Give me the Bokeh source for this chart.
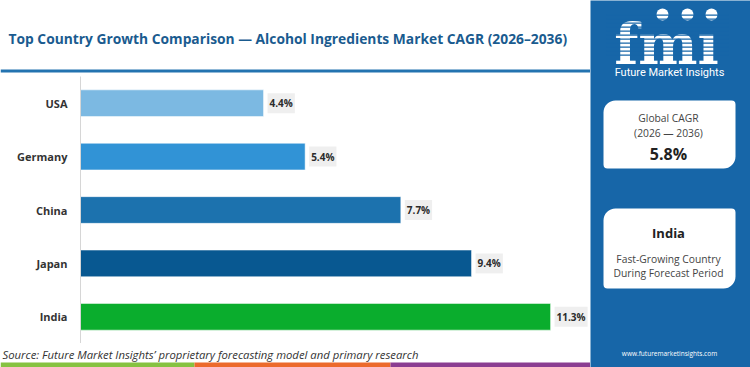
from bokeh.plotting import figure
from bokeh.layouts import row, column
from bokeh.models import FactorRange, Range1d, BoxAnnotation, ColumnDataSource
from bokeh.core.properties import value
from bokeh.embed import file_html
from bokeh.resources import INLINE

# ---- data ----
countries = ["USA", "Germany", "China", "Japan", "India"]
cagr = [4.4, 5.4, 7.7, 9.4, 11.3]
bar_colors = ["#7cb9e2", "#3193d6", "#1c72ae", "#085891", "#0aad2d"]
value_labels = ["4.4%", "5.4%", "7.7%", "9.4%", "11.3%"]
title_text = "Top Country Growth Comparison \u2014 Alcohol Ingredients Market CAGR (2026\u20132036)"
global_cagr_label = ["Global CAGR", "(2026 \u2014 2036)"]
global_cagr = "5.8%"
fastest_country = "India"
fastest_desc = ["Fast-Growing Country", "During Forecast Period"]
source_text = "Source: Future Market Insights\u2019 proprietary forecasting model and primary research"

W, H = 750, 367
LEFT_W = 590          # width of the chart column
HEAD_H, FOOT_H = 76, 24
AXIS_W = 80
PX_PER_UNIT = 41.6
BLUE = "#1766a8"
FONT = "Open Sans"


def deco_fig(w, h, x0, x1, ytop, ybot, bg="white"):
    f = figure(width=w, height=h, x_range=Range1d(x0, x1), y_range=Range1d(ybot, ytop),
               output_backend="svg", toolbar_location=None, frame_align=False,
               min_border=0, min_border_left=0, min_border_right=0,
               min_border_top=0, min_border_bottom=0)
    f.axis.visible = False
    f.grid.grid_line_color = None
    f.outline_line_color = None
    f.background_fill_color = bg
    f.border_fill_color = bg
    return f


def txt(f, x, y, s, size, color, style="normal", align="center", font=FONT, baseline="middle"):
    f.text(x=[x], y=[y], text=[s], text_font=value(font), text_font_size=size,
           text_font_style=style, text_color=color, text_align=align, text_baseline=baseline)


def box(f, l, r, t, b, color, **kw):
    f.add_layout(BoxAnnotation(left=l, right=r, top=t, bottom=b, fill_color=color,
                               fill_alpha=1, line_color=None, **kw))


# ---- header ----
head = deco_fig(LEFT_W, HEAD_H, 0, LEFT_W, 0, HEAD_H)
txt(head, 8, 38, title_text, "13.8px", "#1a5b8f", style="bold", align="left")
box(head, 0, LEFT_W, 69, 72, "#2373b0")

# ---- main chart ----
src = ColumnDataSource(dict(country=countries, cagr=cagr, color=bar_colors, label=value_labels))
main_h = H - HEAD_H - FOOT_H
p = figure(width=LEFT_W, height=main_h,
           y_range=FactorRange(factors=list(reversed(countries))),
           x_range=Range1d(0, (LEFT_W - AXIS_W) / PX_PER_UNIT),
           output_backend="svg", toolbar_location=None, frame_align=False,
           min_border_left=AXIS_W, min_border_right=0,
           min_border_top=0, min_border_bottom=0)
p.xaxis.visible = False
p.xgrid.grid_line_color = None
p.ygrid.grid_line_color = None
p.outline_line_color = None
p.background_fill_color = "white"
p.border_fill_color = "white"

ya = p.yaxis[0]
ya.axis_line_color = "#d6d6d6"
ya.major_tick_line_color = None
ya.minor_tick_line_color = None
ya.major_label_text_font = FONT
ya.major_label_text_font_style = "bold"
ya.major_label_text_font_size = "11px"
ya.major_label_text_color = "#333333"
ya.major_label_standoff = 7

p.hbar(y="country", left=0, right="cagr", height=0.5, fill_color="color",
       line_color="white", line_alpha=0.5, line_width=1, source=src)

p.text(x="cagr", y="country", text="label", source=src, x_offset=4,
       text_baseline="middle", text_align="left",
       text_font=value(FONT), text_font_style="bold", text_font_size="10px",
       text_color="#2b2b2b", background_fill_color="#efefef",
       padding=dict(left=2, right=2, top=3, bottom=3))

# ---- footer ----
foot = deco_fig(LEFT_W, FOOT_H, 0, LEFT_W, H - FOOT_H, H)
txt(foot, 2, 354, source_text, "11.3px", "#333333", style="italic", align="left")
box(foot, 0, 194, 362, H, "#86c241")
box(foot, 194, 390, 362, H, "#ec6a2c")
box(foot, 390, LEFT_W, 362, H, "#8b3d91")

# ---- right panel ----
panel = deco_fig(W - LEFT_W, H, LEFT_W, W, 0, H, bg=BLUE)
txt(panel, 666, 43, "fm\u0131", "56px", "white", style="bold", font="DejaVu Serif", baseline="alphabetic")
panel.scatter(x=[662, 687, 711], y=[14, 14, 14], size=12, fill_color="white", line_color=None)
for yy in range(14, 58, 4):
    box(panel, 606, 728, yy, yy + 1.2, BLUE)
txt(panel, 669, 72, "Future Market Insights", "11px", "white", font="Roboto")

box(panel, 603, 735, 100, 168, "white", border_radius=(12, 4, 12, 4), level="underlay")
txt(panel, 668, 117, global_cagr_label[0], "10.3px", "#444444")
txt(panel, 668, 132, global_cagr_label[1], "10.3px", "#444444")
txt(panel, 668, 153, global_cagr, "16px", "#222222", style="bold")

box(panel, 603, 735, 208, 288, "white", border_radius=(12, 4, 12, 4), level="underlay")
txt(panel, 668, 232, fastest_country, "13px", "#222222", style="bold")
txt(panel, 668, 258, fastest_desc[0], "10.3px", "#444444")
txt(panel, 668, 272, fastest_desc[1], "10.3px", "#444444")

txt(panel, 669, 353, "www.futuremarketinsights.com", "6.5px", "white")

layout = row(column(head, p, foot, spacing=0), panel, spacing=0)
open("out.html", "w").write(file_html(layout, INLINE))
